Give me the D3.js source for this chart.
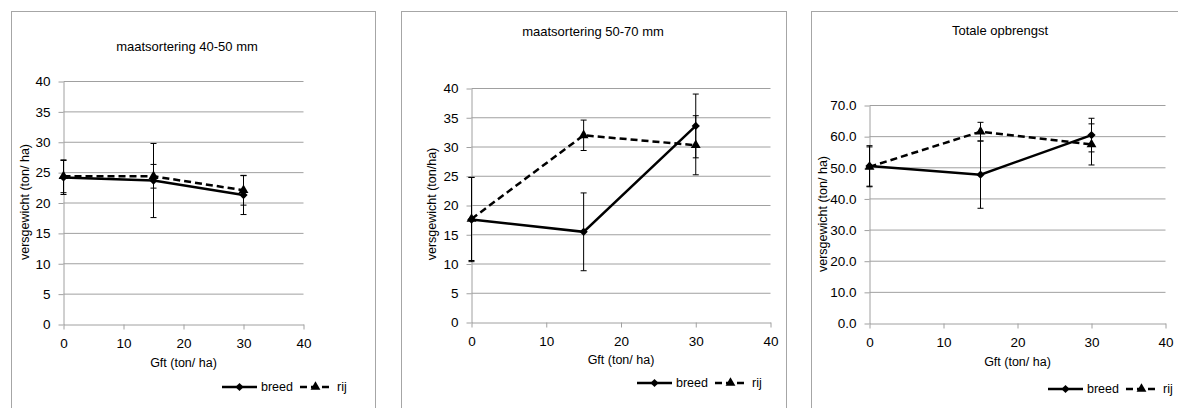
<!DOCTYPE html>
<html lang="nl">
<head>
  <meta charset="UTF-8">
  <title>Gft opbrengst</title>
  <style>
    body { margin: 0; background: #fff; }
    svg { display: block; font-family: "Liberation Sans", Arial, sans-serif; }
    .frame { fill: none; stroke: #a6a6a6; }
    .grid line { stroke: #a0a0a0; }
    .axis path, .axis line { stroke: #a0a0a0; }
    .axis text { font-size: 13.5px; fill: #000; }
    .lbl { font-size: 12.5px; fill: #000; }
    .ttl { font-size: 13px; fill: #000; }
  </style>
</head>
<body>
  <svg id="chart" width="1178" height="408"></svg>
  <script src="https://d3js.org/d3.v7.min.js"></script>
  <script>
    // gift dosering (x)
    const gift = [0, 15, 30]
    const xTicks = [0, 10, 20, 30, 40]
    const titles = ['maatsortering 40-50 mm', 'maatsortering 50-70 mm', 'Totale opbrengst']
    const yTitles = ['versgewicht (ton/ ha)', 'versgewicht (ton/ha)', 'versgewicht (ton/ ha)']
    const xTitle = 'Gft (ton/ ha)'
    const seriesNames = ['breed', 'rij']

    // maatsortering 40-50 mm
    const breed4050 = [24.2, 23.7, 21.3]
    const breed4050Err = [2.8, 6.1, 3.2]
    const rij4050 = [24.4, 24.4, 22.1]
    const rij4050Err = [2.7, 1.95, 2.45]
    const yTicks4050 = [0, 5, 10, 15, 20, 25, 30, 35, 40]

    // maatsortering 50-70 mm
    const breed5070 = [17.6, 15.5, 33.6]
    const breed5070Err = [7.2, 6.65, 5.45]
    const rij5070 = [17.7, 32.0, 30.3]
    const rij5070Err = [7.1, 2.6, 5.05]
    const yTicks5070 = [0, 5, 10, 15, 20, 25, 30, 35, 40]

    // totale opbrengst
    const breedTot = [50.6, 47.8, 60.5]
    const breedTotErr = [6.5, 10.8, 5.4]
    const rijTot = [50.3, 61.6, 57.5]
    const rijTotErr = [6.4, 3.0, 6.6]
    const yTicksTot = [0, 10, 20, 30, 40, 50, 60, 70]

    const panels = [
      { breed: breed4050, breedErr: breed4050Err, rij: rij4050, rijErr: rij4050Err, yTicks: yTicks4050, fmt: d3.format('d') },
      { breed: breed5070, breedErr: breed5070Err, rij: rij5070, rijErr: rij5070Err, yTicks: yTicks5070, fmt: d3.format('d') },
      { breed: breedTot, breedErr: breedTotErr, rij: rijTot, rijErr: rijTotErr, yTicks: yTicksTot, fmt: d3.format('.1f') }
    ]

    // plaatsing van de drie grafieken
    const layout = [
      { frame: [11.5, 11.5, 375.5, 430], plot: [63.5, 303.5, 81.5, 324.5], title: [187, 46], yTitle: [25, 202], xTitleY: 363, legend: [222, 387] },
      { frame: [401.5, 11.5, 786.5, 430], plot: [471.5, 770.5, 88.5, 322.5], title: [593, 31], yTitle: [432, 204], xTitleY: 360, legend: [637, 383] },
      { frame: [811.5, 11.5, 1195, 430], plot: [869.5, 1165.5, 105.5, 323.5], title: [1000, 30], yTitle: [823, 214], xTitleY: 362, legend: [1048, 389] }
    ]

    const svg = d3.select('#chart')
    const diamond = d3.symbol().type(d3.symbolSquare).size(34)
    const triangle = d3.symbol().type(d3.symbolTriangle).size(42)

    panels.forEach((p, i) => {
      const L = layout[i]
      const [l, r, t, b] = L.plot
      const g = svg.append('g')

      g.append('rect')
        .attr('class', 'frame')
        .attr('x', L.frame[0]).attr('y', L.frame[1])
        .attr('width', L.frame[2] - L.frame[0])
        .attr('height', L.frame[3] - L.frame[1])

      const x = d3.scaleLinear().domain([0, 40]).range([l, r])
      const y = d3.scaleLinear().domain([0, d3.max(p.yTicks)]).range([b, t])

      // rasterlijnen
      g.append('g').attr('class', 'grid')
        .selectAll('line')
        .data(p.yTicks.filter(d => d > 0))
        .enter().append('line')
        .attr('x1', l).attr('x2', r)
        .attr('y1', d => y(d)).attr('y2', d => y(d))

      g.append('g').attr('class', 'axis')
        .attr('transform', `translate(0, ${b})`)
        .call(d3.axisBottom(x).tickValues(xTicks).tickSize(5).tickSizeOuter(0).tickPadding(9))
      g.append('g').attr('class', 'axis')
        .attr('transform', `translate(${l}, 0)`)
        .call(d3.axisLeft(y).tickValues(p.yTicks).tickFormat(p.fmt).tickSize(5).tickSizeOuter(0).tickPadding(8))

      g.append('text').attr('class', 'ttl')
        .attr('x', L.title[0]).attr('y', L.title[1])
        .attr('dy', '0.35em').attr('text-anchor', 'middle')
        .text(titles[i])
      g.append('text').attr('class', 'lbl')
        .attr('x', (l + r) / 2).attr('y', L.xTitleY)
        .attr('dy', '0.35em').attr('text-anchor', 'middle')
        .text(xTitle)
      g.append('text').attr('class', 'lbl')
        .attr('transform', `translate(${L.yTitle[0]}, ${L.yTitle[1]}) rotate(-90)`)
        .attr('dy', '0.35em').attr('text-anchor', 'middle')
        .text(yTitles[i])

      const series = [
        { vals: p.breed, err: p.breedErr, dash: null, sym: diamond, rot: 45 },
        { vals: p.rij, err: p.rijErr, dash: '7,4', sym: triangle, rot: 0 }
      ]

      // foutbalken
      series.forEach(s => {
        const eb = g.append('g').attr('stroke', '#000').attr('stroke-width', 1)
        gift.forEach((gv, k) => {
          const cx = x(gv)
          const y1 = y(s.vals[k] + s.err[k])
          const y2 = y(s.vals[k] - s.err[k])
          eb.append('line').attr('x1', cx).attr('x2', cx).attr('y1', y1).attr('y2', y2)
          eb.append('line').attr('x1', cx - 3).attr('x2', cx + 3).attr('y1', y1).attr('y2', y1)
          eb.append('line').attr('x1', cx - 3).attr('x2', cx + 3).attr('y1', y2).attr('y2', y2)
        })
      })

      const line = d3.line().x((d, k) => x(gift[k])).y(d => y(d))
      series.forEach(s => {
        g.append('path')
          .attr('d', line(s.vals))
          .attr('fill', 'none')
          .attr('stroke', '#000')
          .attr('stroke-width', 2.5)
          .attr('stroke-dasharray', s.dash)
        g.selectAll(null)
          .data(s.vals)
          .enter().append('path')
          .attr('d', s.sym)
          .attr('transform', (d, k) => `translate(${x(gift[k])}, ${y(d)}) rotate(${s.rot})`)
          .attr('fill', '#000')
      })

      // legenda
      const lg = g.append('g').attr('transform', `translate(${L.legend[0]}, ${L.legend[1]})`)
      lg.append('line').attr('x1', 0).attr('x2', 35).attr('y1', 0).attr('y2', 0)
        .attr('stroke', '#000').attr('stroke-width', 2.5)
      lg.append('path').attr('d', diamond).attr('transform', 'translate(17.5, 0) rotate(45)').attr('fill', '#000')
      const t1 = lg.append('text').attr('class', 'lbl')
        .attr('x', 39).attr('dy', '0.35em').text(seriesNames[0])
      const x2 = 39 + t1.node().getComputedTextLength() + 7
      lg.append('line').attr('x1', x2).attr('x2', x2 + 31).attr('y1', 0).attr('y2', 0)
        .attr('stroke', '#000').attr('stroke-width', 2.5).attr('stroke-dasharray', '7,4')
      lg.append('path').attr('d', triangle).attr('transform', `translate(${x2 + 15.5}, 0)`).attr('fill', '#000')
      lg.append('text').attr('class', 'lbl')
        .attr('x', x2 + 37).attr('dy', '0.35em').text(seriesNames[1])
    })
  </script>
</body>
</html>
